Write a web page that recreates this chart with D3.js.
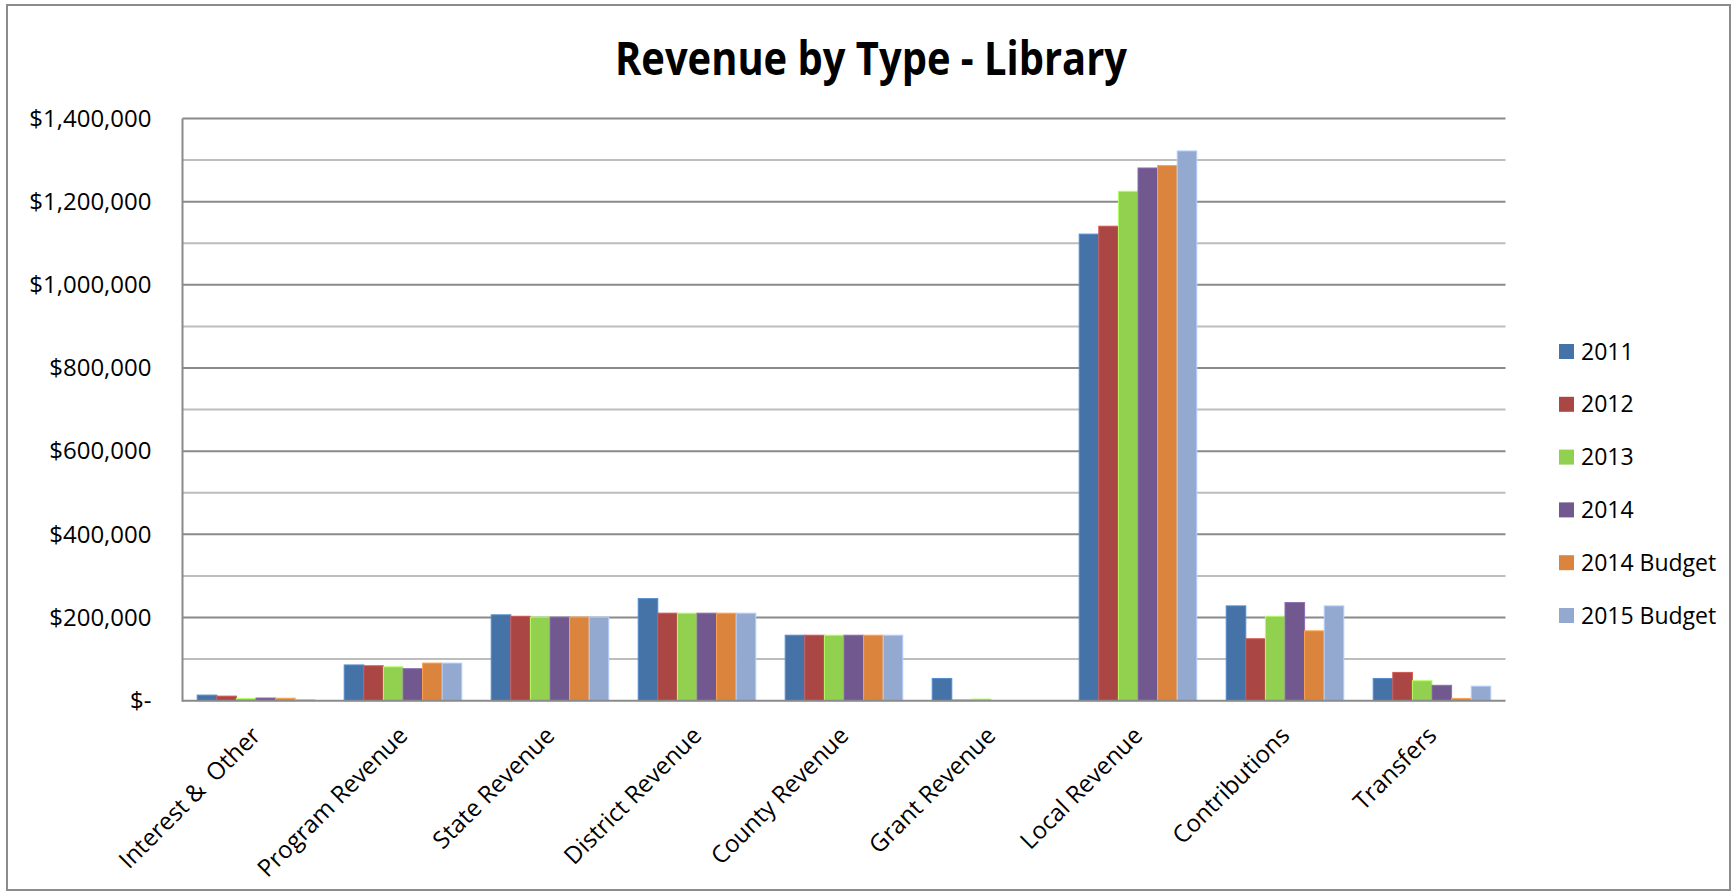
<!DOCTYPE html>
<html>
<head>
<meta charset="utf-8">
<script src="https://cdn.jsdelivr.net/npm/d3@7/dist/d3.min.js"></script>
<style>
  html, body { margin: 0; padding: 0; background: #fff; }
  svg { display: block; font-family: "Open Sans", "DejaVu Sans", sans-serif; }
</style>
</head>
<body>
<svg id="chart" width="1732" height="893"></svg>
<script>
// Revenue categories along the x axis
const categories = [
  "Interest &  Other", "Program Revenue", "State Revenue", "District Revenue",
  "County Revenue", "Grant Revenue", "Local Revenue", "Contributions", "Transfers"
];

// Series names (legend order) and colours
const seriesNames = ["2011", "2012", "2013", "2014", "2014 Budget", "2015 Budget"];
const seriesColors = ["#4572A7", "#AA4643", "#92D050", "#71588F", "#DB843D", "#93A9CF"];

// Values per series, one entry per category
const rev2011       = [13500, 86000, 206500, 245500, 157500, 53500, 1122000, 228000, 53500];
const rev2012       = [11000, 84000, 203000, 210500, 157500, 1500, 1141000, 149000, 68000];
const rev2013       = [5500, 81500, 201000, 210500, 157500, 4000, 1225000, 203000, 48000];
const rev2014       = [6500, 77000, 201000, 210500, 157500, 0, 1281000, 236000, 37000];
const rev2014Budget = [6000, 90500, 201000, 210500, 157500, 0, 1287000, 168000, 5500];
const rev2015Budget = [2500, 90500, 201000, 210500, 157500, 0, 1322000, 228000, 35000];

const seriesValues = [rev2011, rev2012, rev2013, rev2014, rev2014Budget, rev2015Budget];

// Y axis gridlines every 100k, labels every 200k
const gridValues = [0, 100000, 200000, 300000, 400000, 500000, 600000, 700000,
                    800000, 900000, 1000000, 1100000, 1200000, 1300000, 1400000];
const tickValues = [0, 200000, 400000, 600000, 800000, 1000000, 1200000, 1400000];

const svg = d3.select("#chart");

const plot = { left: 182.5, right: 1505.5, top: 118.5, bottom: 700.7 };

// Outer chart frame
svg.append("rect")
  .attr("x", 7).attr("y", 5)
  .attr("width", 1723).attr("height", 885)
  .attr("fill", "#fff")
  .attr("stroke", "#8c8c8c")
  .attr("stroke-width", 2);

// Title
svg.append("text")
  .attr("x", 871).attr("y", 75)
  .attr("text-anchor", "middle")
  .attr("font-size", 47)
  .attr("font-weight", 700)
  .attr("textLength", 512)
  .attr("lengthAdjust", "spacingAndGlyphs")
  .text("Revenue by Type - Library");

const y = d3.scaleLinear().domain([0, 1400000]).range([plot.bottom, plot.top]);
const x0 = d3.scaleBand().domain(categories).range([plot.left, plot.right]).padding(0);
const bw = x0.bandwidth();
const gap = bw * 0.2;
const x1 = d3.scaleBand().domain(seriesNames).range([gap / 2, bw - gap / 2]).padding(0);

// Horizontal gridlines
svg.append("g").selectAll("line")
  .data(gridValues.filter(v => v > 0))
  .join("line")
  .attr("x1", plot.left).attr("x2", plot.right)
  .attr("y1", d => y(d)).attr("y2", d => y(d))
  .attr("stroke", d => (d % 200000 === 0) ? "#8a8a8a" : "#bdbdbd")
  .attr("stroke-width", 2);

// Y axis labels
const fmt = v => v === 0 ? "$-" : "$" + d3.format(",")(v);
const yAxis = d3.axisLeft(y).tickValues(tickValues).tickFormat(fmt).tickSize(0).tickPadding(31);
const yg = svg.append("g").attr("transform", `translate(${plot.left},0)`).call(yAxis);
yg.select(".domain").remove();
yg.selectAll("text")
  .attr("font-family", "\"Open Sans\", sans-serif")
  .attr("font-size", 24)
  .attr("fill", "#000");

// Bars
const groups = svg.append("g").selectAll("g")
  .data(categories)
  .join("g")
  .attr("transform", d => `translate(${x0(d)},0)`);

groups.selectAll("rect")
  .data((cat, ci) => seriesNames.map((s, si) => ({ s, si, v: seriesValues[si][ci] })))
  .join("rect")
  .filter(d => d.v > 0)
  .attr("x", d => x1(d.s))
  .attr("y", d => y(d.v))
  .attr("width", x1.bandwidth())
  .attr("height", d => y(0) - y(d.v))
  .attr("fill", d => seriesColors[d.si])
  .attr("stroke", d => d3.color(seriesColors[d.si]).brighter(0.6))
  .attr("stroke-width", 1);

// Axis lines
svg.append("line")
  .attr("x1", plot.left).attr("x2", plot.left)
  .attr("y1", plot.top).attr("y2", plot.bottom + 1)
  .attr("stroke", "#8a8a8a").attr("stroke-width", 2);
svg.append("line")
  .attr("x1", plot.left).attr("x2", plot.right)
  .attr("y1", plot.bottom).attr("y2", plot.bottom)
  .attr("stroke", "#8a8a8a").attr("stroke-width", 2);

// Rotated category labels
svg.append("g").selectAll("text")
  .data(categories)
  .join("text")
  .attr("transform", d => `translate(${x0(d) + bw / 2 + 6},737) rotate(-45)`)
  .attr("text-anchor", "end")
  .attr("font-size", 24)
  .attr("fill", "#000")
  .style("white-space", "pre")
  .text(d => d);

// Legend
const legend = svg.append("g").selectAll("g")
  .data(seriesNames)
  .join("g")
  .attr("transform", (d, i) => `translate(1559,${344 + i * 52.8})`);
legend.append("rect")
  .attr("width", 15).attr("height", 15)
  .attr("fill", (d, i) => seriesColors[i]);
legend.append("text")
  .attr("x", 22).attr("y", 15.5)
  .attr("font-size", 23)
  .attr("fill", "#000")
  .text(d => d);
</script>
</body>
</html>
